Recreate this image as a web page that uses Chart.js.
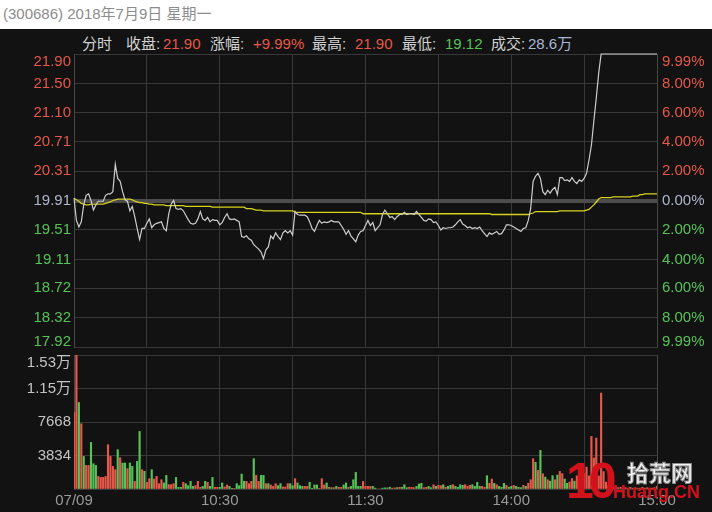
<!DOCTYPE html>
<html>
<head>
<meta charset="utf-8">
<script src="https://cdn.jsdelivr.net/npm/chart.js@4.4.0/dist/chart.umd.min.js"></script>
<style>
html, body { margin: 0; padding: 0; }
body {
    width: 712px; height: 512px; overflow: hidden; position: relative;
    background: #121212;
    font-family: "Liberation Sans", "Noto Sans CJK SC", sans-serif;
}
#topbar { position: absolute; left: 0; top: 0; width: 712px; height: 29px; background: #fff; }
#title { position: absolute; left: 3px; top: 5px; font-size: 15px; line-height: 18px; color: #8c8c8c; white-space: nowrap; }
canvas { position: absolute; left: 0; top: 0; }
.h { position: absolute; top: 35px; font-size: 15px; line-height: 18px; color: #d2d2d2; white-space: nowrap; }
.up { color: #e5584a; }
.dn { color: #57c257; }
.vl { color: #a9b8d6; }
.wm { position: absolute; white-space: nowrap; }
</style>
</head>
<body>
<div id="topbar"><div id="title">(300686) 2018年7月9日 星期一</div></div>

<div class="h" style="left:82px">分时</div>
<div class="h" style="left:126px">收盘:</div><div class="h up" style="left:163px">21.90</div>
<div class="h" style="left:210px">涨幅:</div><div class="h up" style="left:253px">+9.99%</div>
<div class="h" style="left:312px">最高:</div><div class="h up" style="left:355px">21.90</div>
<div class="h" style="left:402px">最低:</div><div class="h dn" style="left:445px">19.12</div>
<div class="h" style="left:491px">成交:</div><div class="h vl" style="left:528px">28.6万</div>

<canvas id="priceChart" width="712" height="512"></canvas>
<canvas id="volChart" width="712" height="512"></canvas>

<div class="wm" style="left:566px;top:456px;font:bold 50px 'Liberation Sans';line-height:50px;letter-spacing:-5px;color:#d3111b">10</div>
<div class="wm" style="left:627px;top:458px;font:bold 22px 'Noto Sans CJK SC';line-height:26px;color:#f4f4f4;-webkit-text-stroke:1px #8a8a8a">拾荒网</div>
<div class="wm" style="left:613px;top:482px;font:bold 18px 'Liberation Sans';line-height:20px;color:#d3111b">Huang.CN</div>

<script>
// previous close and limit range
const prevClose = 19.91;
const priceTicks = [21.90, 21.50, 21.10, 20.71, 20.31, 19.91, 19.51, 19.11, 18.72, 18.32, 17.92];
const pctLabels = ["9.99%", "8.00%", "6.00%", "4.00%", "2.00%", "0.00%", "2.00%", "4.00%", "6.00%", "8.00%", "9.99%"];

// volume axis
const volTicks = [0, 3834, 7668, 11502, 15336];
const volLabels = ["", "3834", "7668", "1.15万", "1.53万"];

// time axis (minute index, 241 minutes)
const timeIdx = [0, 60, 120, 180, 240];
const timeLabels = ["07/09", "10:30", "11:30", "14:00", "15:00"];
const gridIdx = [0, 30, 60, 90, 120, 150, 180, 210, 240];

// price per minute
const price = [
    19.94, 19.64, 19.55, 19.62, 19.85, 19.98, 20.00, 19.91, 19.78, 19.85,
    19.90, 19.90, 19.90, 19.98, 20.00, 20.00, 20.03, 20.40, 20.21, 20.17,
    20.03, 19.92, 19.90, 19.77, 19.83, 19.69, 19.53, 19.38, 19.53, 19.53,
    19.60, 19.66, 19.54, 19.58, 19.60, 19.61, 19.62, 19.53, 19.50, 19.73,
    19.86, 19.91, 19.80, 19.79, 19.80, 19.77, 19.71, 19.65, 19.60, 19.59,
    19.60, 19.66, 19.76, 19.66, 19.64, 19.68, 19.62, 19.65, 19.64, 19.64,
    19.58, 19.61, 19.68, 19.73, 19.66, 19.65, 19.66, 19.64, 19.62, 19.42,
    19.41, 19.43, 19.39, 19.37, 19.31, 19.28, 19.25, 19.21, 19.12, 19.24,
    19.28, 19.43, 19.39, 19.47, 19.42, 19.38, 19.47, 19.50, 19.47, 19.50,
    19.44, 19.76, 19.72, 19.71, 19.71, 19.71, 19.69, 19.62, 19.53, 19.49,
    19.57, 19.64, 19.60, 19.62, 19.61, 19.62, 19.64, 19.62, 19.62, 19.62,
    19.57, 19.52, 19.45, 19.50, 19.43, 19.39, 19.35, 19.44, 19.49, 19.50,
    19.57, 19.64, 19.57, 19.61, 19.50, 19.54, 19.58, 19.72, 19.78, 19.73,
    19.68, 19.69, 19.65, 19.69, 19.72, 19.72, 19.75, 19.72, 19.73, 19.73,
    19.72, 19.76, 19.72, 19.68, 19.64, 19.63, 19.66, 19.65, 19.61, 19.62,
    19.57, 19.51, 19.54, 19.53, 19.54, 19.54, 19.55, 19.58, 19.62, 19.65,
    19.59, 19.57, 19.54, 19.55, 19.53, 19.54, 19.53, 19.55, 19.50, 19.46,
    19.42, 19.47, 19.45, 19.47, 19.49, 19.45, 19.46, 19.51, 19.58, 19.58,
    19.57, 19.55, 19.53, 19.51, 19.49, 19.53, 19.54, 19.64, 19.80, 20.17,
    20.24, 20.28, 20.21, 20.03, 19.99, 20.05, 20.01, 20.06, 20.09, 19.99,
    20.22, 20.22, 20.18, 20.19, 20.17, 20.22, 20.17, 20.14, 20.19, 20.17,
    20.21, 20.28, 20.46, 20.66, 20.99, 21.30, 21.64, 21.90, 21.90, 21.90,
    21.90, 21.90, 21.90, 21.90, 21.90, 21.90, 21.90, 21.90, 21.90, 21.90,
    21.90, 21.90, 21.90, 21.90, 21.90, 21.90, 21.90, 21.90, 21.90, 21.90,
    21.90
];

// average price per minute
const avgPrice = [
    19.94, 19.92, 19.90, 19.87, 19.86, 19.85, 19.85, 19.86, 19.86, 19.86,
    19.86, 19.86, 19.86, 19.87, 19.88, 19.89, 19.91, 19.92, 19.93, 19.93,
    19.93, 19.93, 19.93, 19.93, 19.92, 19.90, 19.89, 19.88, 19.88, 19.87,
    19.87, 19.86, 19.86, 19.85, 19.85, 19.85, 19.85, 19.85, 19.84, 19.84,
    19.84, 19.84, 19.84, 19.84, 19.84, 19.84, 19.83, 19.83, 19.83, 19.83,
    19.83, 19.83, 19.83, 19.83, 19.83, 19.83, 19.83, 19.82, 19.82, 19.82,
    19.82, 19.82, 19.82, 19.82, 19.82, 19.82, 19.82, 19.82, 19.82, 19.82,
    19.82, 19.80, 19.80, 19.80, 19.79, 19.78, 19.78, 19.78, 19.77, 19.77,
    19.77, 19.77, 19.77, 19.77, 19.77, 19.77, 19.77, 19.77, 19.77, 19.77,
    19.77, 19.75, 19.75, 19.75, 19.75, 19.75, 19.75, 19.75, 19.75, 19.75,
    19.75, 19.75, 19.75, 19.75, 19.75, 19.75, 19.75, 19.75, 19.75, 19.75,
    19.75, 19.75, 19.75, 19.75, 19.75, 19.75, 19.75, 19.75, 19.75, 19.73,
    19.73, 19.73, 19.73, 19.73, 19.73, 19.73, 19.73, 19.73, 19.73, 19.73,
    19.73, 19.73, 19.73, 19.73, 19.73, 19.73, 19.73, 19.73, 19.73, 19.73,
    19.73, 19.73, 19.73, 19.73, 19.73, 19.73, 19.73, 19.73, 19.73, 19.73,
    19.73, 19.73, 19.73, 19.73, 19.73, 19.73, 19.73, 19.73, 19.73, 19.73,
    19.73, 19.73, 19.73, 19.73, 19.73, 19.73, 19.73, 19.73, 19.73, 19.73,
    19.73, 19.73, 19.72, 19.72, 19.72, 19.72, 19.72, 19.72, 19.72, 19.72,
    19.72, 19.72, 19.72, 19.72, 19.72, 19.72, 19.72, 19.72, 19.73, 19.74,
    19.76, 19.76, 19.76, 19.76, 19.76, 19.76, 19.76, 19.76, 19.76, 19.76,
    19.77, 19.77, 19.77, 19.77, 19.77, 19.77, 19.77, 19.77, 19.77, 19.77,
    19.77, 19.78, 19.79, 19.82, 19.85, 19.89, 19.93, 19.95, 19.95, 19.95,
    19.95, 19.95, 19.96, 19.96, 19.96, 19.96, 19.96, 19.96, 19.96, 19.96,
    19.97, 19.97, 19.97, 19.99, 19.99, 20.00, 20.00, 20.00, 20.00, 20.00,
    20.00
];

// volume per minute (shares)
const volume = [
    8760, 15300, 9900, 7470, 3730, 2700, 2700, 5330, 2890, 2700,
    1440, 1330, 1330, 1440, 5070, 3730, 2590, 2210, 4500, 3580,
    2970, 2970, 2330, 2970, 2590, 880, 3160, 6590, 2210, 2020,
    760, 1180, 2210, 1140, 1440, 610, 1060, 690, 1560, 500,
    500, 610, 1330, 190, 190, 760, 610, 380, 880, 300,
    380, 880, 190, 300, 880, 760, 300, 1330, 190, 190,
    190, 690, 230, 460, 300, 80, 80, 610, 380, 1710,
    880, 880, 610, 880, 3470, 1560, 880, 1560, 1560, 610,
    610, 460, 300, 610, 380, 610, 230, 230, 610, 610,
    380, 1180, 690, 380, 300, 300, 300, 760, 80, 460,
    460, 80, 1180, 460, 690, 190, 150, 150, 300, 190,
    190, 460, 690, 190, 300, 1060, 1900, 300, 300, 870,
    300, 300, 300, 300, 100, 0, 0, 100, 130, 130,
    200, 100, 130, 150, 200, 200, 490, 150, 200, 200,
    150, 300, 570, 650, 150, 200, 300, 150, 490, 300,
    420, 380, 490, 200, 300, 420, 490, 300, 200, 490,
    420, 490, 300, 420, 490, 300, 760, 300, 300, 200,
    1520, 650, 1140, 650, 490, 300, 200, 650, 420, 200,
    300, 420, 300, 200, 150, 420, 300, 650, 1060, 3470,
    3050, 2130, 4420, 1750, 1370, 1060, 900, 1520, 1060, 1600,
    2010, 1750, 1140, 650, 800, 1200, 900, 1500, 1100, 900,
    1800, 2500, 1500, 6020, 3550, 5830, 1500, 10980, 2000, 800,
    400, 300, 200, 300, 150, 200, 100, 150, 100, 200,
    100, 150, 100, 100, 200, 100, 150, 100, 100, 150,
    300
];

// r = up tick, g = down tick
const volSide = [
    "rrgrgrrggg", "rrrrrrrrgr", "ggrggrggrg", "rrgrrrrggr",
    "rrgggrgggg", "rrrggrggrr", "ggrrggrggg", "grrrgrrggr",
    "grrrggrrrg", "grgggrrggg", "grrrgrgrgr", "rggrgggggr",
    "r",
    "rrggrrgggg", "rrgrgggrrr", "gggrrggrgr", "rgrggrgggg",
    "rrrggggrrg", "rrgrgggrgg", "rgggrgrrrg", "rgrgrggrgr",
    "rggrrgrrgr", "rrrrrrrrrr", "rrrrrrrrrr", "rrrrrrrrrr"
].join("").split("");

const RED = "#e5584a";
const GREEN = "#57c257";
const NEUTRAL = "#aeb6cc";
const GRID = "#383838";
const BORDER = "#474747";
const FONT = '15px "Liberation Sans", "Noto Sans CJK SC", sans-serif';

function fixedTicks(values) {
    return function (scale) {
        scale.ticks = values.map(v => ({ value: v }));
    };
}

const xAxis = {
    type: "linear",
    min: 0,
    max: 240,
    offset: false,
    afterBuildTicks: fixedTicks(gridIdx),
    afterFit: s => { s.height = 0; },
    ticks: { display: false },
    grid: { color: GRID, drawTicks: false, offset: false },
    border: { display: false }
};

const priceLabels = {
    id: "priceLabels",
    afterDraw(chart) {
        const ctx = chart.ctx;
        const area = chart.chartArea;
        const y = chart.scales.y;
        ctx.save();
        ctx.font = FONT;
        ctx.textBaseline = "middle";
        priceTicks.forEach((v, k) => {
            let py = y.getPixelForValue(v);
            py = Math.min(Math.max(py, area.top + 8), area.bottom - 5);
            ctx.fillStyle = v > prevClose ? RED : (v < prevClose ? GREEN : NEUTRAL);
            ctx.textAlign = "right";
            ctx.fillText(v.toFixed(2), area.left - 3, py);
            ctx.textAlign = "left";
            ctx.fillText(pctLabels[k], area.right + 5, py);
        });
        ctx.restore();
    }
};

const volAxisLabels = {
    id: "volAxisLabels",
    afterDraw(chart) {
        const ctx = chart.ctx;
        const area = chart.chartArea;
        const y = chart.scales.y;
        const x = chart.scales.x;
        ctx.save();
        ctx.font = FONT;
        ctx.textBaseline = "middle";
        ctx.textAlign = "right";
        ctx.fillStyle = "#c4c4c4";
        volTicks.forEach((v, k) => {
            if (!volLabels[k]) return;
            let py = Math.max(y.getPixelForValue(v), area.top + 8);
            ctx.fillText(volLabels[k], area.left - 3, py);
        });
        ctx.textAlign = "center";
        ctx.fillStyle = "#9a9a9a";
        timeIdx.forEach((t, k) => {
            ctx.fillText(timeLabels[k], x.getPixelForValue(t), area.bottom + 12);
        });
        ctx.restore();
    }
};

new Chart(document.getElementById("priceChart"), {
    type: "line",
    data: {
        datasets: [{
            data: price.map((v, i) => ({ x: i, y: v })),
            borderColor: "#cdcdcd",
            borderWidth: 1.2,
            pointRadius: 0,
            tension: 0,
            clip: 3,
            yAxisID: "y"
        }, {
            data: avgPrice.map((v, i) => ({ x: i, y: v })),
            borderColor: "#d6d21e",
            borderWidth: 1.3,
            pointRadius: 0,
            tension: 0,
            yAxisID: "y"
        }]
    },
    options: {
        responsive: false,
        animation: false,
        events: [],
        layout: { padding: { top: 54, bottom: 165, left: 0, right: 0 } },
        plugins: { legend: { display: false }, tooltip: { enabled: false } },
        scales: {
            x: xAxis,
            y: {
                position: "left",
                min: 17.92,
                max: 21.90,
                afterBuildTicks: fixedTicks(priceTicks),
                afterFit: s => { s.width = 74; },
                ticks: { display: false },
                grid: {
                    drawTicks: false,
                    color: c => c.tick && c.tick.value === prevClose ? "#4c4c4c" : GRID,
                    lineWidth: c => c.tick && c.tick.value === prevClose ? 4 : 1
                },
                border: { color: BORDER }
            },
            y2: {
                position: "right",
                min: 17.92,
                max: 21.90,
                afterFit: s => { s.width = 55; },
                ticks: { display: false },
                grid: { display: false },
                border: { color: BORDER }
            }
        }
    },
    plugins: [priceLabels]
});

new Chart(document.getElementById("volChart"), {
    type: "bar",
    data: {
        datasets: [{
            data: volume.map((v, i) => ({ x: i, y: v })),
            backgroundColor: volSide.map(s => s === "r" ? RED : GREEN),
            barThickness: 1.5,
            borderWidth: 0
        }]
    },
    options: {
        responsive: false,
        animation: false,
        events: [],
        layout: { padding: { top: 355, bottom: 23, left: 0, right: 0 } },
        plugins: { legend: { display: false }, tooltip: { enabled: false } },
        scales: {
            x: xAxis,
            y: {
                position: "left",
                min: 0,
                max: 15336,
                afterBuildTicks: fixedTicks(volTicks),
                afterFit: s => { s.width = 74; },
                ticks: { display: false },
                grid: { drawTicks: false, color: GRID },
                border: { color: BORDER }
            },
            y2: {
                position: "right",
                min: 0,
                max: 15336,
                afterFit: s => { s.width = 55; },
                ticks: { display: false },
                grid: { display: false },
                border: { color: BORDER }
            }
        }
    },
    plugins: [volAxisLabels]
});
</script>
</body>
</html>
